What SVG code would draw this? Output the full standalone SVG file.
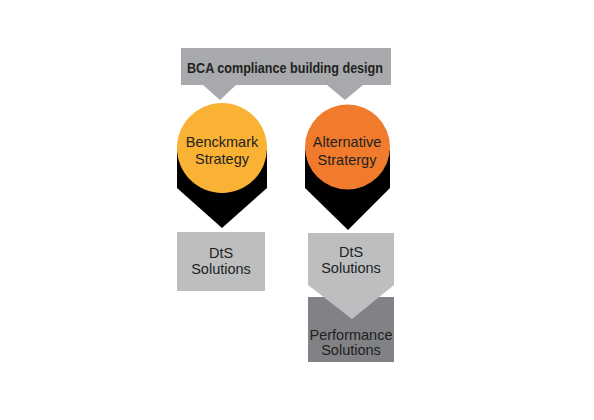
<svg xmlns="http://www.w3.org/2000/svg" width="594" height="420" viewBox="0 0 594 420">
<style>
text{font-family:"Liberation Sans",Arial,sans-serif;fill:#231f20;text-anchor:middle}
.t{font-size:14.5px}
.b{font-size:14px;font-weight:bold}
.banner{fill:#a7a9ac}
.box{fill:#bcbec0}
.dark{fill:#808285}
.pin{fill:#000}
</style>
<rect width="594" height="420" fill="#fff"/>
<g id="connectors">
<polygon class="banner" points="203,85 236,85 220,100"/>
<polygon class="banner" points="327,85 363,85 345,100"/>
</g>
<g id="banner">
<rect class="banner" x="181" y="48" width="210" height="37"/>
<text class="b" x="285" y="73" textLength="196" lengthAdjust="spacingAndGlyphs">BCA compliance building design</text>
</g>
<g id="benchmark">
<polygon class="pin" points="177,150 267,150 267,188 222,228 177,188"/>
<circle cx="222" cy="148" r="45" fill="#f9b233"/>
<text class="t" x="222" y="147">Benckmark</text>
<text class="t" x="222" y="164">Strategy</text>
</g>
<g id="alternative">
<polygon class="pin" points="305,150 390,150 390,188 348,230 305,188"/>
<circle cx="347.5" cy="147" r="42.5" fill="#f07b2c"/>
<text class="t" x="347" y="147">Alternative</text>
<text class="t" x="347" y="165">Stratergy</text>
</g>
<g id="dts-left">
<rect class="box" x="177" y="232" width="88" height="59"/>
<text class="t" x="221" y="258">DtS</text>
<text class="t" x="221" y="274">Solutions</text>
</g>
<g id="performance">
<rect class="dark" x="308" y="297" width="86" height="65"/>
<text class="t" x="351" y="340">Performance</text>
<text class="t" x="351" y="355">Solutions</text>
</g>
<g id="dts-right">
<polygon class="box" points="308,233 394,233 394,285 352,319 308,285"/>
<text class="t" x="351" y="257">DtS</text>
<text class="t" x="351" y="273">Solutions</text>
</g>
</svg>
